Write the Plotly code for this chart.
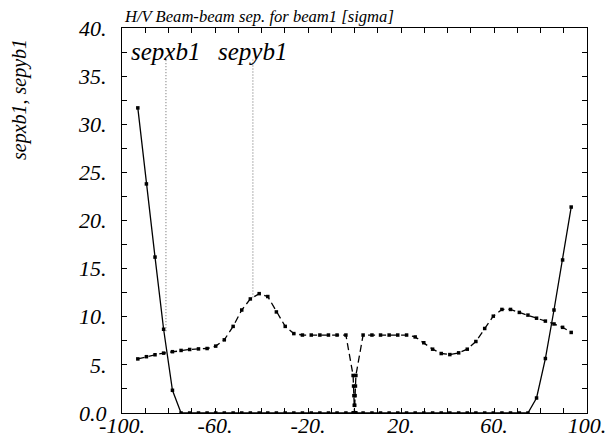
import plotly.graph_objects as go

# s positions [m]
s_pos = [-93.2, -89.5, -85.8, -82.1, -78.3, -74.6, -70.9, -67.1, -63.4, -59.7,
         -56.0, -52.2, -48.5, -44.8, -41.0, -37.3, -33.6, -29.8, -26.1, -22.4,
         -18.6, -14.9, -11.2, -7.5, -3.7,
         -0.6, -0.4, -0.25, -0.1, 0.0, 0.1, 0.25, 0.4, 0.6,
         3.7, 7.5, 11.2, 14.9, 18.6, 22.4, 26.1, 29.8, 33.6, 37.3,
         41.0, 44.8, 48.5, 52.2, 56.0, 59.7, 63.4, 67.1, 70.9, 74.6,
         78.3, 82.1, 85.8, 89.5, 93.2]

sepxb1 = [31.7, 23.8, 16.2, 8.7, 2.36, 0, 0, 0, 0, 0,
          0, 0, 0, 0, 0, 0, 0, 0, 0, 0,
          0, 0, 0, 0, 0,
          0, 0, 0, 0, 0, 0, 0, 0, 0,
          0, 0, 0, 0, 0, 0, 0, 0, 0, 0,
          0, 0, 0, 0, 0, 0, 0, 0, 0, 0,
          1.56, 5.66, 10.7, 15.9, 21.4]

sepyb1 = [5.62, 5.85, 6.05, 6.22, 6.37, 6.5, 6.6, 6.66, 6.7, 6.95,
          7.6, 9.0, 10.7, 11.85, 12.4, 12.1, 10.5, 9.0, 8.25, 8.1,
          8.1, 8.1, 8.1, 8.1, 8.1,
          3.9, 2.8, 1.8, 0.8, 0.0, 0.8, 1.8, 2.8, 3.9,
          8.1, 8.1, 8.1, 8.1, 8.1, 8.1, 7.9, 7.3, 6.63, 6.18,
          6.07, 6.25, 6.63, 7.43, 8.78, 10.06, 10.76, 10.76, 10.45, 10.17,
          9.85, 9.55, 9.25, 8.9, 8.37]

x_tickvals = [-100, -60, -20, 20, 60, 100]
x_ticktext = ["-100.", "-60.", "-20.", "20.", "60.", "100."]
y_tickvals = [0, 5, 10, 15, 20, 25, 30, 35, 40]
y_ticktext = ["0.0", "5.", "10.", "15.", "20.", "25.", "30.", "35.", "40."]

legend_names = ["sepxb1", "sepyb1"]
legend_x = [-81.1, -43.7]
legend_tip = [8.5, 12.0]

FONT = "Liberation Serif"

fig = go.Figure()
fig.add_trace(go.Scatter(x=s_pos, y=sepxb1, mode="lines+markers", name="sepxb1",
                         line=dict(color="black", width=1.3),
                         marker=dict(symbol="square", size=3.5, color="black")))
fig.add_trace(go.Scatter(x=s_pos, y=sepyb1, mode="lines+markers", name="sepyb1",
                         line=dict(color="black", width=1.3, dash="7px,4px"),
                         marker=dict(symbol="square", size=3.5, color="black")))

for name, xl, yt in zip(legend_names, legend_x, legend_tip):
    fig.add_shape(type="line", xref="x", yref="y", x0=xl, x1=xl, y0=yt, y1=36.8,
                  line=dict(color="#666666", width=1, dash="1px,2px"))
    fig.add_annotation(x=xl, y=37.6, xref="x", yref="y", text=name, showarrow=False,
                       xanchor="center", yanchor="middle",
                       font=dict(family=FONT, size=25, color="black", style="italic"))

fig.add_annotation(x=0.0, y=1.0, xref="paper", yref="paper", xanchor="left", yanchor="bottom",
                   text="H/V Beam-beam sep. for beam1 [sigma]", showarrow=False,
                   yshift=0,
                   font=dict(family=FONT, size=16.6, color="black", style="italic"))
fig.add_annotation(x=-0.222, y=0.815, xref="paper", yref="paper", xanchor="center", yanchor="middle",
                   text="sepxb1, sepyb1", showarrow=False, textangle=-90,
                   font=dict(family=FONT, size=20, color="black", style="italic"))

axis_common = dict(showgrid=False, zeroline=False, showline=True, linecolor="black",
                   linewidth=1, mirror="ticks", ticks="inside", ticklen=5,
                   tickcolor="black", tickwidth=1, automargin=False,
                   ticklabeloverflow="allow",
                   tickfont=dict(family=FONT, size=22, color="black", style="italic"))

fig.update_xaxes(range=[-100, 100], tickmode="array", tickvals=x_tickvals, ticktext=x_ticktext,
                 minor=dict(dtick=10, tick0=0, ticks="inside", ticklen=5, tickcolor="black"),
                 ticklabelstandoff=-7,
                 **axis_common)
fig.update_yaxes(range=[0, 40], tickmode="array", tickvals=y_tickvals, ticktext=y_ticktext,
                 minor=dict(dtick=2.5, tick0=0, ticks="inside", ticklen=5, tickcolor="black"),
                 ticklabelstandoff=10,
                 **axis_common)

fig.update_layout(width=606, height=437, autosize=False,
                  margin=dict(l=122, r=19, t=28, b=24, pad=0),
                  paper_bgcolor="white", plot_bgcolor="white", showlegend=False)

fig.write_html("out.html", config={"displayModeBar": False},
               post_script="document.body.style.margin='0';document.body.style.overflow='hidden';")
